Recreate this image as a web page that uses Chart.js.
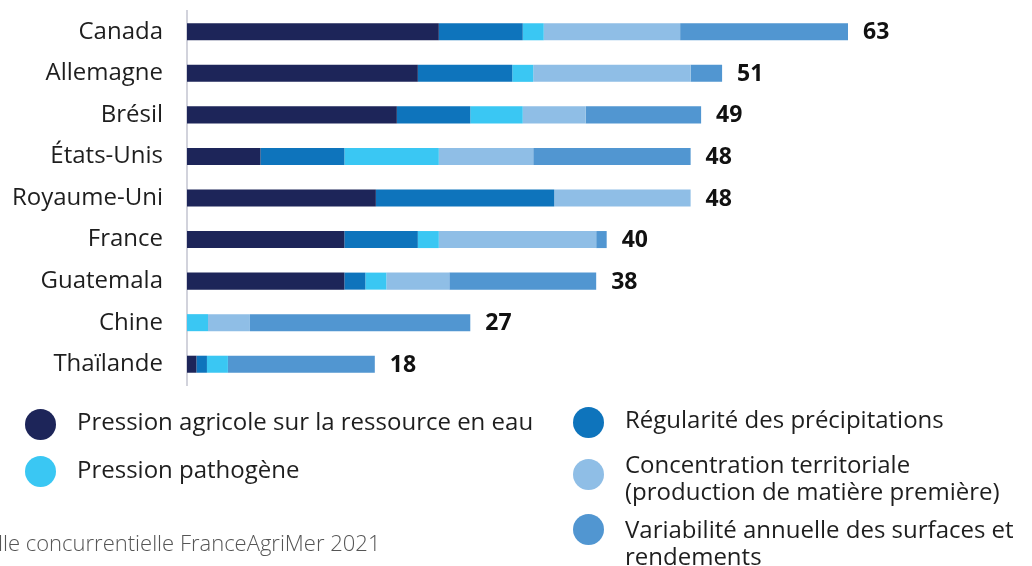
<!DOCTYPE html>
<html lang="fr">
<head>
<meta charset="utf-8">
<script src="https://cdn.jsdelivr.net/npm/chart.js@4"></script>
<style>
  html, body { margin: 0; padding: 0; background: #fff; }
  #wrap { position: relative; width: 1032px; height: 566px; overflow: hidden; font-family: "Open Sans", sans-serif; color: #1e1e1e; }
  #chart { position: absolute; left: 0; top: 0; }
  .leg { position: absolute; font-size: 24px; line-height: 27px; white-space: nowrap; }
  .src { position: absolute; left: -2px; top: 527px; font-size: 22px; color: #555; font-weight: 300; white-space: nowrap; }
</style>
</head>
<body>
<div id="wrap">
  <canvas id="chart" width="1032" height="566"></canvas>
  <div id="legend"></div>
  <div class="src">lle concurrentielle FranceAgriMer 2021</div>
</div>
<script>
const countries = ['Canada', 'Allemagne', 'Brésil', 'États-Unis', 'Royaume-Uni', 'France', 'Guatemala', 'Chine', 'Thaïlande'];
const totals = [63, 51, 49, 48, 48, 40, 38, 27, 18];

const seriesNames = [
  'Pression agricole sur la ressource en eau',
  'Régularité des précipitations',
  'Pression pathogène',
  'Concentration territoriale (production de matière première)',
  'Variabilité annuelle des surfaces et rendements'
];
const pressionAgricole = [24, 22, 20, 7, 18, 15, 15, 0, 0.9];
const regularite       = [8, 9, 7, 8, 17, 7, 2, 0, 1];
const pathogene        = [2, 2, 5, 9, 0, 2, 2, 2, 2];
const concentration    = [13, 15, 6, 9, 13, 15, 6, 4, 0];
const variabilite      = [16, 3, 11, 15, 0, 1, 14, 21, 14];

const colors = ['#1d2559', '#0e74bc', '#3ac7f3', '#8fbee6', '#5196d1'];
const seriesData = [pressionAgricole, regularite, pathogene, concentration, variabilite];

// totals written at the end of each bar
const totalLabels = {
  id: 'totalLabels',
  afterDatasetsDraw(chart) {
    const ctx = chart.ctx;
    const x = chart.scales.x, y = chart.scales.y;
    ctx.save();
    ctx.font = 'bold 23px "Open Sans", sans-serif';
    ctx.fillStyle = '#111';
    ctx.textBaseline = 'middle';
    countries.forEach((c, i) => {
      const sum = seriesData.reduce((s, d) => s + d[i], 0);
      ctx.fillText(String(totals[i]), x.getPixelForValue(sum) + 15, y.getPixelForValue(i) + 1);
    });
    ctx.restore();
  }
};

new Chart(document.getElementById('chart'), {
  type: 'bar',
  data: {
    labels: countries,
    datasets: seriesNames.map((name, i) => ({
      label: name,
      data: seriesData[i],
      backgroundColor: colors[i],
      borderWidth: 0,
      categoryPercentage: 1,
      barPercentage: 0.41
    }))
  },
  options: {
    indexAxis: 'y',
    responsive: false,
    animation: false,
    layout: { padding: { top: 11, bottom: 181, right: 184, left: 0 } },
    plugins: { legend: { display: false }, tooltip: { enabled: false } },
    scales: {
      x: { stacked: true, min: 0, max: 63, display: false },
      y: {
        stacked: true,
        afterFit: s => { s.width = 187; s.paddingTop = 0; s.paddingBottom = 0; },
        grid: { display: false, drawTicks: false },
        border: { display: true, color: '#d2d3dc', width: 2 },
        ticks: { padding: 24, color: '#1e1e1e', font: { family: 'Open Sans', size: 24 } }
      }
    }
  },
  plugins: [totalLabels]
});

// legend (two columns)
const legendPos = [
  { x: 25, y: 407, dot: 409, text: ['Pression agricole sur la ressource en eau'] },
  { x: 573, y: 405, dot: 407, text: ['Régularité des précipitations'] },
  { x: 25, y: 455, dot: 456, text: ['Pression pathogène'] },
  { x: 573, y: 450, dot: 459, text: ['Concentration territoriale', '(production de matière première)'] },
  { x: 573, y: 515, dot: 514, text: ['Variabilité annuelle des surfaces et', 'rendements'] }
];
const legendEl = document.getElementById('legend');
legendEl.innerHTML = seriesNames.map((n, i) => {
  const p = legendPos[i];
  return `
    <div style="position:absolute;left:${p.x}px;top:${p.dot}px;width:31px;height:31px;border-radius:50%;background:${colors[i]};"></div>
    <div class="leg" style="left:${p.x + 52}px;top:${p.y}px;">${p.text.join('<br>')}</div>`;
}).join('');
</script>
</body>
</html>
